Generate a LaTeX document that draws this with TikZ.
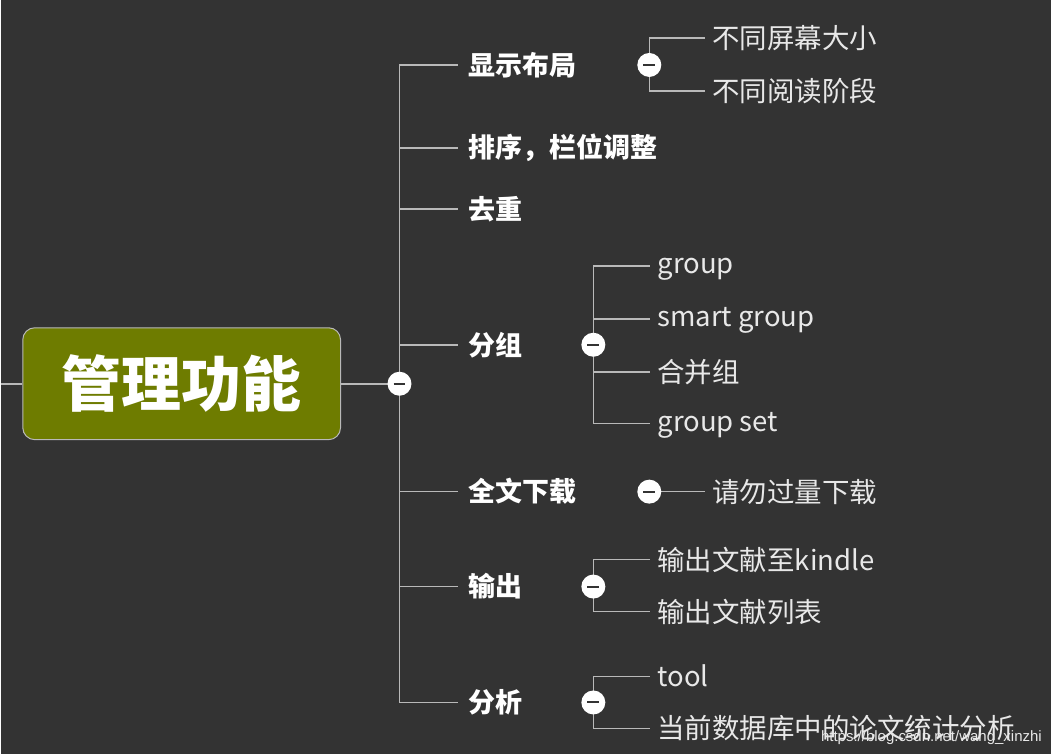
\documentclass[tikz,border=0pt]{standalone}
\usepackage{fontspec}
\setmainfont{Noto Sans CJK SC}
\newfontfamily\wmfont{Liberation Sans}
\definecolor{bggray}{RGB}{51,51,51}
\definecolor{linegray}{RGB}{185,185,185}
\definecolor{olive}{RGB}{110,124,0}
\definecolor{textgray}{RGB}{232,232,232}
\begin{document}
\begin{tikzpicture}[x=1pt,y=-1pt,
    line/.style={draw=linegray,line width=1.6pt},
    root/.style={draw=linegray,line width=1pt,fill=olive,rounded corners=12pt,
        minimum width=318pt,minimum height=112pt,text=white,
        font=\fontsize{60}{64}\selectfont\bfseries},
    topic/.style={anchor=west,inner xsep=10pt,inner ysep=0pt,text=white,
        execute at begin node=\vphantom{国},
        font=\fontsize{27}{30}\selectfont\bfseries},
    leaf/.style={anchor=west,inner xsep=7pt,inner ysep=0pt,text=textgray,
        execute at begin node=\vphantom{国},
        font=\fontsize{27.5}{30}\selectfont},
    fold/.style={circle,fill=white,minimum size=24pt,inner sep=0pt,
        path picture={\draw[bggray,line width=2pt]
        ([xshift=-6pt]path picture bounding box.center)--
        ([xshift=6pt]path picture bounding box.center);}}]
    % background and page size
    \fill[bggray] (0,0) rectangle (1051,755);
    % root
    \node[root] (guanli) at (181,384) {管理功能};
    \coordinate (stub) at (0,384);
    \coordinate (f0) at (399,384);
    % topics
    \path
    (458,65) node[topic] (xianshi) {显示布局}
    (458,148) node[topic] (paixu) {排序，栏位调整}
    (458,209) node[topic] (quchong) {去重}
    (458,345) node[topic] (fenzu) {分组}
    (458,492) node[topic] (xiazai) {全文下载}
    (458,587) node[topic] (shuchu) {输出}
    (458,703) node[topic] (fenxi) {分析}
    ;
    % leaves
    \coordinate (f1) at (649,65);
    \coordinate (f4) at (593,345);
    \coordinate (f5) at (649,492);
    \coordinate (f6) at (593,587);
    \coordinate (f7) at (593,703);
    \path
    (705,38) node[leaf] (pingmu) {不同屏幕大小}
    (705,91) node[leaf] (yuedu) {不同阅读阶段}
    (650,266) node[leaf] (group) {group}
    (650,319) node[leaf] (smart) {smart group}
    (650,372) node[leaf] (hebing) {合并组}
    (650,424) node[leaf] (groupset) {group set}
    (705,492) node[leaf] (qingwu) {请勿过量下载}
    (650,560) node[leaf] (kindle) {输出文献至kindle}
    (650,612) node[leaf] (liebiao) {输出文献列表}
    (650,677) node[leaf] (tool) {tool}
    (650,729) node[leaf] (tongji) {当前数据库中的论文统计分析}
    ;
    % connectors
    \draw[line] (stub) -- (guanli.west);
    \draw[line] (guanli.east) -- (f0);
    \foreach \t in {xianshi,paixu,quchong,fenzu,xiazai,shuchu,fenxi}
        \draw[line] (f0) |- (\t.west);
    \foreach \l in {pingmu,yuedu}
        \draw[line] (f1) |- (\l.west);
    \foreach \l in {group,smart,hebing,groupset}
        \draw[line] (f4) |- (\l.west);
    \draw[line] (f5) -- (qingwu.west);
    \foreach \l in {kindle,liebiao}
        \draw[line] (f6) |- (\l.west);
    \foreach \l in {tool,tongji}
        \draw[line] (f7) |- (\l.west);
    % fold buttons
    \foreach \f in {0,1,4,5,6,7}
        \node[fold] (fold\f) at (f\f) {};
    % watermark
    \node[anchor=east,inner sep=0pt,text=textgray,font=\wmfont\fontsize{15}{17}\selectfont]
        (wm) at (1042,738) {https://blog.csdn.net/wang\_xinzhi};
\end{tikzpicture}
\end{document}
